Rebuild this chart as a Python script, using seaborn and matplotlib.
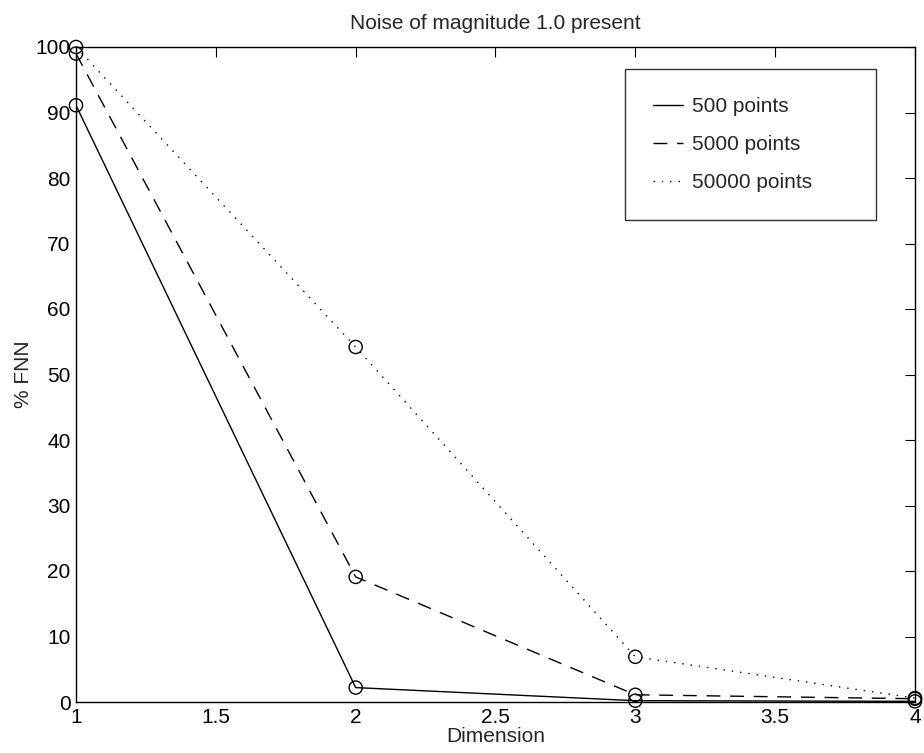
import matplotlib
matplotlib.use("Agg")
import matplotlib.pyplot as plt
import seaborn as sns
import pandas as pd

dimensions = [1, 2, 3, 4]
fnn_500 = [91.1, 2.2, 0.2, 0.1]
fnn_5000 = [99.0, 19.1, 1.1, 0.5]
fnn_50000 = [100.0, 54.2, 6.9, 0.6]
series_labels = ["500 points", "5000 points", "50000 points"]
x_ticks = [1, 1.5, 2, 2.5, 3, 3.5, 4]
x_tick_labels = ["1", "1.5", "2", "2.5", "3", "3.5", "4"]
y_ticks = list(range(0, 101, 10))

rows = []
for lab, vals in zip(series_labels, [fnn_500, fnn_5000, fnn_50000]):
    for d, v in zip(dimensions, vals):
        rows.append({"Dimension": d, "FNN": v, "series": lab})
df = pd.DataFrame(rows)

sns.set_style("white")
plt.rcParams["font.family"] = ["Liberation Sans", "DejaVu Sans"]

fig = plt.figure(figsize=(9.24, 7.53), dpi=100)
ax = fig.add_axes([76 / 924, 51 / 753, 839 / 924, 655 / 753])

styles = {"500 points": None, "5000 points": (0, (10, 7)), "50000 points": (0, (1, 5))}
line_handles = []
for lab in series_labels:
    sub = df[df["series"] == lab]
    sns.lineplot(data=sub, x="Dimension", y="FNN", ax=ax, color="black",
                 linewidth=1.0, legend=False)
    ln = ax.lines[-1]
    if styles[lab] is not None:
        ln.set_linestyle(styles[lab])
    line_handles.append(ln)
    sns.scatterplot(data=sub, x="Dimension", y="FNN", ax=ax, marker="o", s=90,
                    facecolor="none", edgecolor="black", linewidth=1.0,
                    clip_on=False, legend=False, zorder=3)

ax.set_xlim(1, 4)
ax.set_ylim(0, 100)
ax.set_xticks(x_ticks)
ax.set_xticklabels(x_tick_labels)
ax.set_yticks(y_ticks)
ax.tick_params(direction="in", top=True, right=True, length=7, labelsize=15,
               colors="black", pad=4)
for s in ax.spines.values():
    s.set_visible(True)
    s.set_color("black")
    s.set_linewidth(1.0)
ax.set_xlabel("Dimension", fontsize=15, labelpad=0)
ax.set_ylabel("% FNN", fontsize=15, labelpad=2)
ax.set_title("Noise of magnitude 1.0 present", fontsize=15, pad=13)

leg = ax.legend(handles=line_handles, labels=series_labels, loc="upper left",
                bbox_to_anchor=(0.654, 0.0, 0.300, 0.966), mode="expand",
                fontsize=15, frameon=True,
                fancybox=False, edgecolor="black", borderpad=1.35,
                labelspacing=0.9, handlelength=1.45, handletextpad=0.45,
                borderaxespad=0)
leg.get_frame().set_linewidth(1.0)

fig.savefig("out.png", dpi=100, facecolor="white")
